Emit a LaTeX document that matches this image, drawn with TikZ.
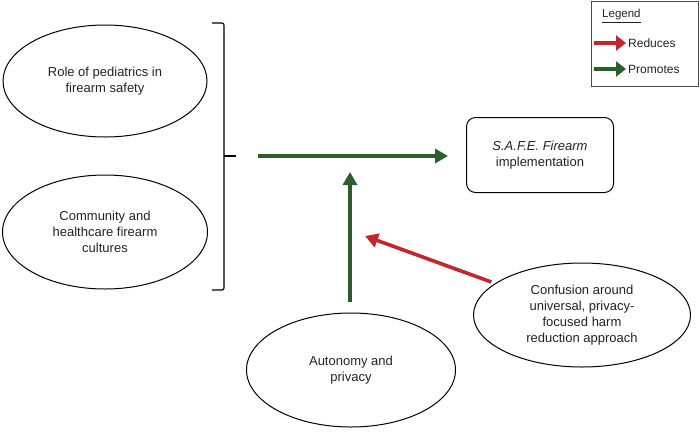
\documentclass[tikz,border=0pt]{standalone}
\usepackage{fontspec}
\setmainfont{Liberation Sans}
\usetikzlibrary{arrows.meta,positioning,calc,shapes.geometric}
\definecolor{FSRed}{HTML}{C1272D}
\definecolor{FSGreen}{HTML}{2B5E2A}
\definecolor{FSText}{HTML}{222222}

\begin{document}
\begin{tikzpicture}[x=1pt,y=-1pt,
  oval/.style={ellipse,draw,line width=1pt,align=center,inner sep=0pt,font=\fontsize{13}{16}\selectfont,text=FSText},
  goal/.style={draw,line width=1pt,rounded corners=9pt,align=center,minimum width=147pt,minimum height=75pt,font=\fontsize{13}{16}\selectfont,text=FSText},
  promotes/.style={-{Triangle[length=13pt,width=14pt]},line width=3.6pt,FSGreen},
  reduces/.style={-{Triangle[length=13pt,width=14pt]},line width=3.6pt,FSRed},
  keyarr/.style={-{Triangle[length=10pt,width=15pt]},line width=3.4pt},
  brace/.style={line width=1.1pt,rounded corners=2pt},
  keytext/.style={font=\fontsize{12}{13}\selectfont,text=FSText,anchor=west,inner sep=0pt},
]
\useasboundingbox (0,0) rectangle (700,432);
% factors
\node[oval,minimum width=204pt,minimum height=112pt] (role) at (105,81) {Role of pediatrics in\\firearm safety};
\node[oval,minimum width=205pt,minimum height=114pt] (culture) at (105,232) {Community and\\healthcare firearm\\cultures};
\node[oval,minimum width=209pt,minimum height=114pt] (autonomy) at (351,370) {Autonomy and\\privacy};
\node[oval,minimum width=217pt,minimum height=104pt] (confusion) at (582,315) {Confusion around\\universal, privacy-\\focused harm\\reduction approach};
\node[goal] (safe) at (540,155) {\textit{S.A.F.E. Firearm}\\implementation};
% bracket round the two left factors
\draw[brace] (212,23) -- (224,23) -- (224,290) -- (212,290);
\draw[brace] (224,156) -- (236,156);
\coordinate (hub) at (258,156);
\coordinate (join) at (350,172);
\coordinate (rtip) at (365,236);
% effects
\draw[promotes,shorten >=18pt] (hub) -- (hub -| safe.west);
\draw[promotes,shorten <=11pt] (autonomy.north -| join) -- (join);
\draw[reduces,shorten <=4pt] (confusion) -- (rtip);
% legend
\node[draw=black!70,line width=0.8pt,minimum width=107pt,minimum height=85pt] (legend) at (644.5,43.5) {};
\node[keytext,font=\fontsize{11.5}{13}\selectfont] (legtitle) at (602,16) {\underline{Legend}};
\coordinate (redstart) at (594,43);
\coordinate (greenstart) at (594,69);
\node[keytext] (redlab) at (628,43) {Reduces};
\node[keytext] (greenlab) at (628,69) {Promotes};
\draw[keyarr,FSRed,shorten >=2pt] (redstart) -- (redlab.west);
\draw[keyarr,FSGreen,shorten >=2pt] (greenstart) -- (greenlab.west);
\end{tikzpicture}
\end{document}
